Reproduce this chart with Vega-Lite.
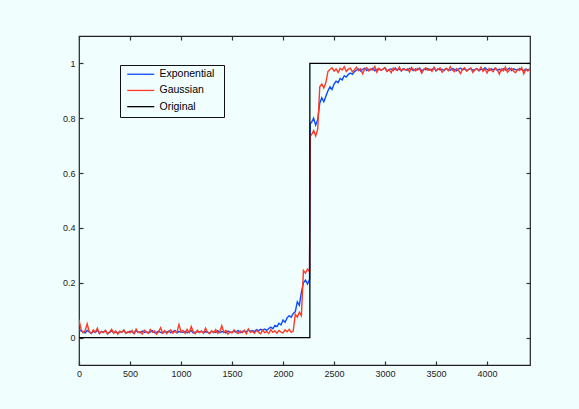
{
"$schema": "https://vega.github.io/schema/vega-lite/v6.json",
"width": 451, "height": 329,
"autosize": "none",
"padding": {"left": 79, "top": 36, "right": 49, "bottom": 44},
"background": "#f0fefe",
"config": {
  "view": {"stroke": "#222", "strokeWidth": 1.2},
  "font": "Liberation Sans",
  "axis": {"grid": false, "domain": false, "title": null, "tickSize": -4, "tickColor": "#333", "tickWidth": 1.2, "labelFontSize": 9, "labelColor": "#222", "labelFont": "Liberation Sans", "labelFlush": false, "labelOverlap": false}
},
"datasets": {
"sig": [
{"x":0,"e":0.03,"g":0.065},{"x":20,"e":0.024,"g":0.03},{"x":40,"e":0.02,"g":0.018},{"x":60,"e":0.017,"g":0.025},{"x":80,"e":0.026,"g":0.05},
{"x":100,"e":0.021,"g":0.022},{"x":120,"e":0.015,"g":0.015},{"x":140,"e":0.023,"g":0.028},{"x":160,"e":0.019,"g":0.02},{"x":180,"e":0.027,"g":0.034},
{"x":200,"e":0.016,"g":0.014},{"x":220,"e":0.022,"g":0.022},{"x":240,"e":0.02,"g":0.018},{"x":260,"e":0.025,"g":0.027},{"x":280,"e":0.014,"g":0.013},
{"x":300,"e":0.019,"g":0.021},{"x":320,"e":0.024,"g":0.03},{"x":340,"e":0.018,"g":0.016},{"x":360,"e":0.021,"g":0.024},{"x":380,"e":0.016,"g":0.012},
{"x":400,"e":0.022,"g":0.023},{"x":420,"e":0.02,"g":0.019},{"x":440,"e":0.026,"g":0.028},{"x":460,"e":0.017,"g":0.015},{"x":480,"e":0.019,"g":0.022},
{"x":500,"e":0.023,"g":0.017},{"x":520,"e":0.021,"g":0.026},{"x":540,"e":0.016,"g":0.014},{"x":560,"e":0.025,"g":0.031},{"x":580,"e":0.02,"g":0.018},
{"x":600,"e":0.018,"g":0.022},{"x":620,"e":0.024,"g":0.013},{"x":640,"e":0.019,"g":0.027},{"x":660,"e":0.022,"g":0.02},{"x":680,"e":0.017,"g":0.016},
{"x":700,"e":0.021,"g":0.029},{"x":720,"e":0.025,"g":0.019},{"x":740,"e":0.018,"g":0.024},{"x":760,"e":0.02,"g":0.013},{"x":780,"e":0.023,"g":0.021},
{"x":800,"e":0.019,"g":0.036},{"x":820,"e":0.016,"g":0.017},{"x":840,"e":0.022,"g":0.025},{"x":860,"e":0.02,"g":0.014},{"x":880,"e":0.024,"g":0.022},
{"x":900,"e":0.018,"g":0.028},{"x":920,"e":0.021,"g":0.016},{"x":940,"e":0.026,"g":0.023},{"x":960,"e":0.017,"g":0.019},{"x":980,"e":0.022,"g":0.048},
{"x":1000,"e":0.02,"g":0.02},{"x":1020,"e":0.019,"g":0.026},{"x":1040,"e":0.023,"g":0.015},{"x":1060,"e":0.018,"g":0.03},{"x":1080,"e":0.021,"g":0.018},
{"x":1100,"e":0.025,"g":0.04},{"x":1120,"e":0.017,"g":0.021},{"x":1140,"e":0.02,"g":0.014},{"x":1160,"e":0.022,"g":0.027},{"x":1180,"e":0.019,"g":0.019},
{"x":1200,"e":0.024,"g":0.023},{"x":1220,"e":0.018,"g":0.016},{"x":1240,"e":0.021,"g":0.034},{"x":1260,"e":0.02,"g":0.02},{"x":1280,"e":0.016,"g":0.014},
{"x":1300,"e":0.023,"g":0.025},{"x":1320,"e":0.021,"g":0.018},{"x":1340,"e":0.019,"g":0.029},{"x":1360,"e":0.025,"g":0.015},{"x":1380,"e":0.018,"g":0.022},
{"x":1400,"e":0.022,"g":0.043},{"x":1420,"e":0.02,"g":0.019},{"x":1440,"e":0.017,"g":0.026},{"x":1460,"e":0.024,"g":0.013},{"x":1480,"e":0.021,"g":0.021},
{"x":1500,"e":0.019,"g":0.017},{"x":1520,"e":0.023,"g":0.028},{"x":1540,"e":0.02,"g":0.02},{"x":1560,"e":0.026,"g":0.015},{"x":1580,"e":0.018,"g":0.024},
{"x":1600,"e":0.022,"g":0.018},{"x":1620,"e":0.025,"g":0.027},{"x":1640,"e":0.02,"g":0.014},{"x":1660,"e":0.028,"g":0.031},{"x":1680,"e":0.023,"g":0.019},
{"x":1700,"e":0.026,"g":0.023},{"x":1720,"e":0.022,"g":0.016},{"x":1740,"e":0.029,"g":0.026},{"x":1760,"e":0.025,"g":0.02},{"x":1780,"e":0.03,"g":0.014},
{"x":1800,"e":0.027,"g":0.027},{"x":1820,"e":0.031,"g":0.018},{"x":1840,"e":0.026,"g":0.022},{"x":1860,"e":0.033,"g":0.015},{"x":1880,"e":0.038,"g":0.029},
{"x":1900,"e":0.032,"g":0.019},{"x":1920,"e":0.044,"g":0.024},{"x":1940,"e":0.04,"g":0.016},{"x":1960,"e":0.052,"g":0.026},{"x":1980,"e":0.046,"g":0.02},
{"x":2000,"e":0.064,"g":0.017},{"x":2020,"e":0.056,"g":0.028},{"x":2040,"e":0.072,"g":0.021},{"x":2060,"e":0.08,"g":0.03},{"x":2080,"e":0.074,"g":0.019},
{"x":2100,"e":0.088,"g":0.024},{"x":2120,"e":0.094,"g":0.085},{"x":2140,"e":0.13,"g":0.075},{"x":2160,"e":0.118,"g":0.092},{"x":2180,"e":0.165,"g":0.08},
{"x":2200,"e":0.2,"g":0.245},{"x":2220,"e":0.21,"g":0.235},{"x":2240,"e":0.195,"g":0.25},{"x":2260,"e":0.212,"g":0.24},{"x":2266,"e":0.78,"g":0.735},
{"x":2280,"e":0.785,"g":0.74},{"x":2300,"e":0.8,"g":0.755},{"x":2320,"e":0.775,"g":0.735},{"x":2340,"e":0.795,"g":0.76},
{"x":2360,"e":0.855,"g":0.915},{"x":2380,"e":0.875,"g":0.925},{"x":2400,"e":0.86,"g":0.91},{"x":2420,"e":0.88,"g":0.93},
{"x":2440,"e":0.9,"g":0.97},{"x":2460,"e":0.915,"g":0.978},{"x":2480,"e":0.905,"g":0.984},{"x":2500,"e":0.925,"g":0.972},{"x":2520,"e":0.935,"g":0.98},
{"x":2540,"e":0.93,"g":0.967},{"x":2560,"e":0.945,"g":0.982},{"x":2580,"e":0.94,"g":0.976},{"x":2600,"e":0.955,"g":0.988},{"x":2620,"e":0.95,"g":0.971},
{"x":2640,"e":0.96,"g":0.979},{"x":2660,"e":0.965,"g":0.983},{"x":2680,"e":0.96,"g":0.969},{"x":2700,"e":0.97,"g":0.977},{"x":2720,"e":0.975,"g":0.986},
{"x":2740,"e":0.98,"g":0.974},{"x":2760,"e":0.972,"g":0.981},{"x":2780,"e":0.978,"g":0.962},{"x":2800,"e":0.983,"g":0.978},{"x":2820,"e":0.974,"g":0.985},
{"x":2840,"e":0.979,"g":0.973},{"x":2860,"e":0.976,"g":0.98},{"x":2880,"e":0.982,"g":0.976},{"x":2900,"e":0.973,"g":0.989},{"x":2920,"e":0.977,"g":0.968},
{"x":2940,"e":0.981,"g":0.982},{"x":2960,"e":0.975,"g":0.975},{"x":2980,"e":0.979,"g":0.979},{"x":3000,"e":0.984,"g":0.984},{"x":3020,"e":0.972,"g":0.971},
{"x":3040,"e":0.978,"g":0.977},{"x":3060,"e":0.98,"g":0.966},{"x":3080,"e":0.974,"g":0.983},{"x":3100,"e":0.983,"g":0.978},{"x":3120,"e":0.976,"g":0.974},
{"x":3140,"e":0.979,"g":0.987},{"x":3160,"e":0.973,"g":0.972},{"x":3180,"e":0.981,"g":0.98},{"x":3200,"e":0.977,"g":0.976},{"x":3220,"e":0.975,"g":0.981},
{"x":3240,"e":0.982,"g":0.969},{"x":3260,"e":0.978,"g":0.985},{"x":3280,"e":0.974,"g":0.977},{"x":3300,"e":0.98,"g":0.973},{"x":3320,"e":0.976,"g":0.982},
{"x":3340,"e":0.983,"g":0.979},{"x":3360,"e":0.972,"g":0.964},{"x":3380,"e":0.979,"g":0.978},{"x":3400,"e":0.977,"g":0.984},{"x":3420,"e":0.981,"g":0.975},
{"x":3440,"e":0.975,"g":0.98},{"x":3460,"e":0.978,"g":0.971},{"x":3480,"e":0.984,"g":0.986},{"x":3500,"e":0.973,"g":0.974},{"x":3520,"e":0.98,"g":0.979},
{"x":3540,"e":0.976,"g":0.983},{"x":3560,"e":0.979,"g":0.968},{"x":3580,"e":0.974,"g":0.977},{"x":3600,"e":0.982,"g":0.982},{"x":3620,"e":0.977,"g":0.973},
{"x":3640,"e":0.975,"g":0.988},{"x":3660,"e":0.981,"g":0.976},{"x":3680,"e":0.978,"g":0.97},{"x":3700,"e":0.973,"g":0.981},{"x":3720,"e":0.979,"g":0.975},
{"x":3740,"e":0.983,"g":0.963},{"x":3760,"e":0.976,"g":0.979},{"x":3780,"e":0.98,"g":0.984},{"x":3800,"e":0.974,"g":0.972},{"x":3820,"e":0.978,"g":0.978},
{"x":3840,"e":0.982,"g":0.983},{"x":3860,"e":0.975,"g":0.967},{"x":3880,"e":0.977,"g":0.976},{"x":3900,"e":0.981,"g":0.98},{"x":3920,"e":0.973,"g":0.974},
{"x":3940,"e":0.979,"g":0.986},{"x":3960,"e":0.976,"g":0.971},{"x":3980,"e":0.984,"g":0.979},{"x":4000,"e":0.978,"g":0.965},{"x":4020,"e":0.974,"g":0.982},
{"x":4040,"e":0.98,"g":0.975},{"x":4060,"e":0.977,"g":0.97},{"x":4080,"e":0.982,"g":0.984},{"x":4100,"e":0.975,"g":0.977},{"x":4120,"e":0.979,"g":0.961},
{"x":4140,"e":0.973,"g":0.98},{"x":4160,"e":0.981,"g":0.973},{"x":4180,"e":0.976,"g":0.987},{"x":4200,"e":0.978,"g":0.968},{"x":4220,"e":0.983,"g":0.976},
{"x":4240,"e":0.974,"g":0.982},{"x":4260,"e":0.98,"g":0.971},{"x":4280,"e":0.977,"g":0.966},{"x":4300,"e":0.975,"g":0.979},{"x":4320,"e":0.981,"g":0.974},
{"x":4340,"e":0.978,"g":0.985},{"x":4360,"e":0.973,"g":0.962},{"x":4380,"e":0.979,"g":0.978},{"x":4400,"e":0.976,"g":0.972},{"x":4420,"e":0.98,"g":0.98}
],
"orig": [
{"x":0,"v":0,"s":"o","k":0},{"x":2263,"v":0,"s":"o","k":1},{"x":2263,"v":1,"s":"o","k":2},{"x":4421,"v":1,"s":"o","k":3}
]
},
"layer": [
{
  "data": {"name": "sig"},
  "transform": [{"fold": ["e", "g"], "as": ["s", "v"]}],
  "mark": {"type": "line", "strokeWidth": 1.4, "clip": true},
  "encoding": {
    "x": {"field": "x", "type": "quantitative", "scale": {"domain": [0, 4421], "nice": false, "zero": false},
          "axis": {"orient": "bottom", "values": [0,500,1000,1500,2000,2500,3000,3500,4000], "format": "d", "labelPadding": 8}},
    "y": {"field": "v", "type": "quantitative", "scale": {"domain": [-0.1, 1.1], "nice": false, "zero": false},
          "axis": {"orient": "left", "values": [0,0.2,0.4,0.6,0.8,1], "format": "~g", "labelPadding": 8}},
    "color": {"field": "s", "type": "nominal",
      "scale": {"domain": ["e", "g", "o"], "range": ["#0a4dff", "#ff3a26", "#000000"]},
      "legend": {"orient": "none", "legendX": 41, "legendY": 29, "direction": "vertical",
        "title": "\u00a0", "titleOrient": "right", "titlePadding": 6, "titleFontSize": 10,
        "labelExpr": "datum.label == 'e' ? 'Exponential' : datum.label == 'g' ? 'Gaussian' : 'Original'",
        "labelFont": "Liberation Sans", "labelFontSize": 10.5, "labelColor": "#000",
        "symbolType": "M-1,0H5.75", "symbolSize": 64, "symbolStrokeWidth": 1.3, "symbolOffset": 2,
        "labelOffset": 23, "rowPadding": 5.2, "padding": 4,
        "strokeColor": "#111", "fillColor": "#f0fefe"}}
  }
},
{
  "data": {"name": "orig"},
  "mark": {"type": "line", "strokeWidth": 1.3, "clip": true},
  "encoding": {
    "x": {"field": "x", "type": "quantitative", "axis": {"orient": "top", "labels": false, "values": [0,500,1000,1500,2000,2500,3000,3500,4000]}},
    "y": {"field": "v", "type": "quantitative", "axis": {"orient": "right", "labels": false, "values": [0,0.2,0.4,0.6,0.8,1]}},
    "color": {"field": "s", "type": "nominal"},
    "order": {"field": "k", "type": "quantitative"}
  }
}
],
"resolve": {"axis": {"x": "independent", "y": "independent"}}
}
